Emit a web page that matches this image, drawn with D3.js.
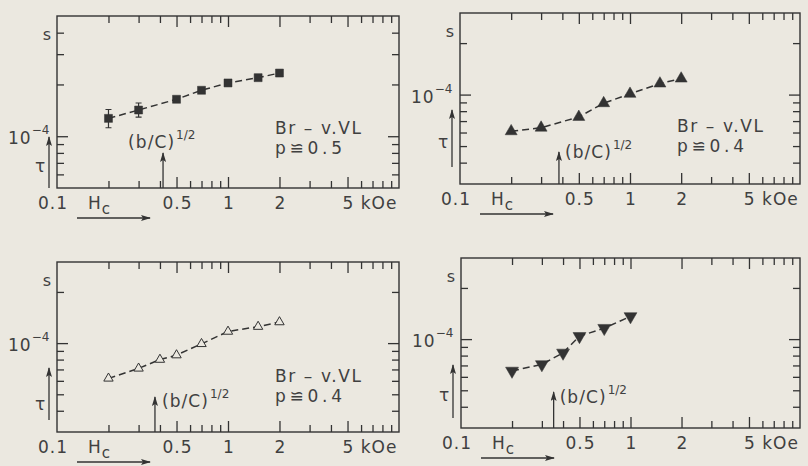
<!DOCTYPE html>
<html>
<head>
<meta charset="utf-8">
<script src="https://cdn.jsdelivr.net/npm/d3@7"></script>
<style>
body{margin:0;background:#ebe8e0;}
svg{display:block;}
text{font-family:"DejaVu Sans",sans-serif;fill:#404040;}
</style>
</head>
<body>
<script>
//field values (kOe) and relaxation times (s)
var fieldA = [0.2, 0.3, 0.5, 0.7, 1, 1.5, 2];
var tauA = [1.27e-4, 1.42e-4, 1.64e-4, 1.85e-4, 2.04e-4, 2.19e-4, 2.33e-4];
var errLoA = [1.12e-4, 1.29e-4];
var errHiA = [1.43e-4, 1.56e-4];

var fieldB = [0.2, 0.3, 0.5, 0.7, 1, 1.5, 2];
var tauB = [6.1e-5, 6.4e-5, 7.4e-5, 8.9e-5, 1.01e-4, 1.16e-4, 1.24e-4];

var fieldC = [0.2, 0.3, 0.4, 0.5, 0.7, 1, 1.5, 2];
var tauC = [6.2e-5, 7.1e-5, 8.0e-5, 8.5e-5, 9.9e-5, 1.17e-4, 1.25e-4, 1.33e-4];

var fieldD = [0.2, 0.3, 0.4, 0.5, 0.7, 1];
var tauD = [6.5e-5, 7.1e-5, 8.3e-5, 1.04e-4, 1.16e-4, 1.36e-4];

//(b/C)^1/2 arrow positions (kOe)
var bcField = [0.417, 0.382, 0.374, 0.352];

//axis ticks and labels
var xDomain = [0.1, 10];
var xTicksMinor = [0.2, 0.3, 0.4, 0.6, 0.7, 0.8, 0.9, 3, 4, 6, 7, 8, 9];
var xTicksMajor = [0.5, 1, 2, 5];
var xLabels = ["0.1", "0.5", "1", "2", "5 kOe"];
var xLabelValues = [0.1, 0.5, 1, 2, 5];
var yDomainA = [5e-5, 5e-4];
var yDomainB = [3e-5, 3e-4];
var yTicksMinorA = [6e-5, 7e-5, 8e-5, 9e-5, 2e-4, 3e-4, 4e-4];
var yTicksMinorB = [4e-5, 5e-5, 6e-5, 7e-5, 8e-5, 9e-5, 2e-4];
var yTicksMajor = [1e-4];
var sampleLines = [["Br \u2013 v.VL", "p\u224c0.5"], ["Br \u2013 v.VL", "p\u224c0.4"], ["Br \u2013 v.VL", "p\u224c0.4"], null];

var ink = "#333",
    paper = "#ebe8e0";

var svg = d3.select("body")
    .append("svg")
    .attr("width", 808)
    .attr("height", 466);

svg.append("rect")
    .attr("width", 808)
    .attr("height", 466)
    .attr("fill", paper);

//panel frames and hand placed annotation offsets
var panels = [
    {left: 57, top: 16, w: 342, h: 172, yDom: yDomainA, yMinor: yTicksMinorA, xs: fieldA, ys: tauA, marker: "square",
     bc: bcField[0], bcTop: 35, bcDx: -35, bcDy: -5, tau: [0, 51, 22], txt: [218, 118, 138]},
    {left: 460, top: 13, w: 340, h: 171, yDom: yDomainB, yMinor: yTicksMinorB, xs: fieldB, ys: tauB, marker: "triangle",
     bc: bcField[1], bcTop: 32, bcDx: 6, bcDy: 6, tau: [17, 74, 42], txt: [217, 119, 139]},
    {left: 57, top: 262, w: 342, h: 170, yDom: yDomainB, yMinor: yTicksMinorB, xs: fieldC, ys: tauC, marker: "open",
     bc: bcField[2], bcTop: 35, bcDx: 7, bcDy: 10, tau: [12, 64, 28], txt: [218, 120, 140]},
    {left: 461, top: 258, w: 339, h: 170, yDom: yDomainB, yMinor: yTicksMinorB, xs: fieldD, ys: tauD, marker: "down",
     bc: bcField[3], bcTop: 36, bcDx: 6, bcDy: 11, tau: [10, 63, 33], txt: null}
];

var defs = svg.append("defs");
defs.append("marker")
    .attr("id", "head")
    .attr("viewBox", "0 0 10 10")
    .attr("refX", 9)
    .attr("refY", 5)
    .attr("markerWidth", 10)
    .attr("markerHeight", 6)
    .attr("markerUnits", "userSpaceOnUse")
    .attr("orient", "auto")
    .attr("preserveAspectRatio", "none")
    .append("path")
    .attr("d", "M0,0 L10,5 L0,10 L2,5 Z")
    .attr("fill", ink);

panels.forEach(function(p, i){
    var g = svg.append("g")
        .attr("transform", "translate(" + p.left + "," + p.top + ")");

    var x = d3.scaleLog().domain(xDomain).range([0, p.w]);
    var y = d3.scaleLog().domain(p.yDom).range([p.h, 0]);

    //frame
    g.append("rect")
        .attr("width", p.w)
        .attr("height", p.h)
        .attr("fill", "none")
        .attr("stroke", ink)
        .attr("stroke-width", 1.4);

    //inward ticks on all four sides
    function ticks(axis, tr){
        var a = g.append("g").attr("transform", tr).call(axis);
        a.select(".domain").remove();
        a.selectAll("line").attr("stroke", ink).attr("stroke-width", 1.3);
        a.selectAll("text").remove();
    }
    ticks(d3.axisBottom(x).tickValues(xTicksMinor).tickSize(-7), "translate(0," + p.h + ")");
    ticks(d3.axisBottom(x).tickValues(xTicksMajor).tickSize(-11), "translate(0," + p.h + ")");
    ticks(d3.axisTop(x).tickValues(xTicksMinor).tickSize(-7), "translate(0,0)");
    ticks(d3.axisTop(x).tickValues(xTicksMajor).tickSize(-11), "translate(0,0)");
    ticks(d3.axisLeft(y).tickValues(p.yMinor).tickSize(-7), "translate(0,0)");
    ticks(d3.axisLeft(y).tickValues(yTicksMajor).tickSize(-11), "translate(0,0)");
    ticks(d3.axisRight(y).tickValues(p.yMinor).tickSize(-7), "translate(" + p.w + ",0)");
    ticks(d3.axisRight(y).tickValues(yTicksMajor).tickSize(-11), "translate(" + p.w + ",0)");

    //x tick labels
    xLabelValues.forEach(function(v, k){
        var t = g.append("text")
            .attr("y", p.h + 21)
            .attr("font-size", 17)
            .attr("letter-spacing", 1)
            .text(xLabels[k]);
        if (k === 0) {
            t.attr("x", x(v) - 4).attr("text-anchor", "middle");
        } else if (k === xLabels.length - 1) {
            t.attr("x", x(v) - 5).attr("text-anchor", "start");
        } else {
            t.attr("x", x(v) + 1).attr("text-anchor", "middle");
        }
    });

    //H_c with arrow
    var hc = g.append("text")
        .attr("x", 31)
        .attr("y", p.h + 21)
        .attr("font-size", 17)
        .text("H");
    hc.append("tspan").attr("dx", 1).attr("dy", 5).attr("font-size", 15).text("c");
    g.append("line")
        .attr("x1", 20).attr("x2", 93)
        .attr("y1", p.h + 30).attr("y2", p.h + 30)
        .attr("stroke", ink).attr("stroke-width", 1.3)
        .attr("marker-end", "url(#head)");

    //y labels
    var yl = g.append("text")
        .attr("x", -49)
        .attr("y", y(1e-4) + 8)
        .attr("font-size", 17)
        .attr("letter-spacing", 1)
        .text("10");
    yl.append("tspan").attr("dy", -10).attr("font-size", 12).attr("letter-spacing", 0).text("\u22124");
    g.append("text")
        .attr("x", -10)
        .attr("y", 24)
        .attr("text-anchor", "middle")
        .attr("font-size", 16)
        .text("s");

    //tau arrow
    g.append("line")
        .attr("x1", -8).attr("x2", -8)
        .attr("y1", p.h - p.tau[0]).attr("y2", p.h - p.tau[1])
        .attr("stroke", ink).attr("stroke-width", 1.3)
        .attr("marker-end", "url(#head)");
    g.append("text")
        .attr("x", -17)
        .attr("y", p.h - p.tau[2] + 6)
        .attr("text-anchor", "middle")
        .attr("font-size", 17)
        .text("\u03c4");

    //(b/C)^1/2 arrow
    var bx = x(p.bc);
    g.append("line")
        .attr("x1", bx).attr("x2", bx)
        .attr("y1", p.h).attr("y2", p.h - p.bcTop)
        .attr("stroke", ink).attr("stroke-width", 1.3)
        .attr("marker-end", "url(#head)");
    g.append("text")
        .attr("x", bx + p.bcDx)
        .attr("y", p.h - p.bcTop + p.bcDy)
        .attr("font-size", 17)
        .attr("textLength", 46)
        .attr("lengthAdjust", "spacing")
        .text("(b/C)");
    g.append("text")
        .attr("x", bx + p.bcDx + 48)
        .attr("y", p.h - p.bcTop + p.bcDy - 9)
        .attr("font-size", 12)
        .text("1/2");

    //sample text
    if (p.txt) {
        sampleLines[i].forEach(function(s, k){
            g.append("text")
                .attr("x", p.txt[0])
                .attr("y", p.txt[1 + k])
                .attr("font-size", 17)
                .attr("textLength", k === 0 ? 86 : 67)
                .attr("lengthAdjust", "spacing")
                .text(s);
        });
    }

    //error bars
    if (i === 0) {
        errLoA.forEach(function(lo, k){
            var cx = x(p.xs[k]);
            g.append("path")
                .attr("d", "M" + (cx - 3) + "," + y(lo) + "H" + (cx + 3) +
                    "M" + cx + "," + y(lo) + "V" + y(errHiA[k]) +
                    "M" + (cx - 3) + "," + y(errHiA[k]) + "H" + (cx + 3))
                .attr("stroke", ink)
                .attr("fill", "none")
                .attr("stroke-width", 1.2);
        });
    }

    //dashed curve
    var pts = p.xs.map(function(v, k){ return [v, p.ys[k]]; });
    g.append("path")
        .datum(pts)
        .attr("d", d3.line().x(function(d){ return x(d[0]); }).y(function(d){ return y(d[1]); }))
        .attr("fill", "none")
        .attr("stroke", ink)
        .attr("stroke-width", 1.5)
        .attr("stroke-dasharray", "7,4");

    //markers
    var sizes = {square: 64, triangle: 62, open: 38, down: 72};
    var sym = d3.symbol()
        .type(p.marker === "square" ? d3.symbolSquare : d3.symbolTriangle)
        .size(sizes[p.marker]);
    g.selectAll(".pt")
        .data(pts)
        .enter()
        .append("path")
        .attr("class", "pt")
        .attr("d", sym)
        .attr("transform", function(d){
            return "translate(" + x(d[0]) + "," + y(d[1]) + ")" + (p.marker === "down" ? " rotate(180)" : "");
        })
        .attr("fill", p.marker === "open" ? paper : ink)
        .attr("stroke", ink)
        .attr("stroke-width", p.marker === "open" ? 1 : 0.5);
});
</script>
</body>
</html>
